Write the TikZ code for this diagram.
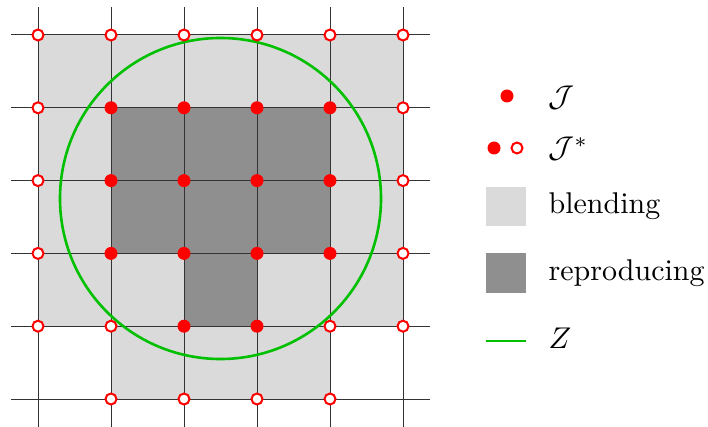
\documentclass[tikz,border=0pt]{standalone}
\begin{document}
\definecolor{lightfill}{RGB}{218,218,218}
\definecolor{darkfill}{RGB}{143,143,143}
\definecolor{zgreen}{RGB}{0,192,0}
\definecolor{dotred}{RGB}{255,0,0}
\begin{tikzpicture}[x=1pt,y=-1pt,
  gridline/.style={draw=black!80,line width=1pt},
  fulldot/.style={circle,fill=dotred,inner sep=0pt,minimum size=13pt},
  opendot/.style={circle,draw=dotred,fill=white,line width=2pt,inner sep=0pt,minimum size=11pt},
  legtext/.style={anchor=base west,inner sep=0pt,scale=3}]
\useasboundingbox (0,0) rectangle (708,427);
% regions
\fill[lightfill] (38,35) rectangle (403,326.2);
\fill[lightfill] (111,326.2) rectangle (330,399);
\fill[darkfill] (111,107.8) rectangle (330,253.4);
\fill[darkfill] (184,253.4) rectangle (257,326.2);
% grid
\foreach \x in {38,111,184,257,330,403} \draw[gridline] (\x,7) -- (\x,427);
\foreach \y in {35,107.8,180.6,253.4,326.2,399} \draw[gridline] (11,\y) -- (430,\y);
% Z circle
\draw[zgreen,line width=2.6pt] (220.5,198.5) circle[radius=160.5];
% open dots
\foreach \x [count=\i] in {38,111,184,257,330,403} \node[opendot] (t\i) at (\x,35) {};
\foreach \y [count=\i] in {107.8,180.6,253.4,326.2} {
  \node[opendot] (l\i) at (38,\y) {};
  \node[opendot] (r\i) at (403,\y) {};
}
\node[opendot] (b1) at (111,326.2) {};
\node[opendot] (b2) at (330,326.2) {};
\foreach \x [count=\i] in {111,184,257,330} \node[opendot] (bb\i) at (\x,399) {};
% filled dots
\foreach \y [count=\j] in {107.8,180.6,253.4} {
  \foreach \x [count=\i] in {111,184,257,330} \node[fulldot] (f\j\i) at (\x,\y) {};
}
\node[fulldot] (g1) at (184,326.2) {};
\node[fulldot] (g2) at (257,326.2) {};
% legend
\node[fulldot] (lj) at (507,96) {};
\node[legtext] (tj) at (548,107) {$\mathcal{J}$};
\node[fulldot] (ljs1) at (494,148) {};
\node[opendot] (ljs2) at (517,148) {};
\node[legtext] (tjs) at (548,158) {$\mathcal{J}^*$};
\fill[lightfill] (486,187) rectangle (526,226);
\node[legtext] (tb) at (548,214) {blending};
\fill[darkfill] (486,253) rectangle (526,293);
\node[legtext] (tr) at (548,280) {reproducing};
\coordinate (zl1) at (486,341);
\coordinate (zl2) at (526,341);
\draw[zgreen,line width=2.6pt] (zl1) -- (zl2);
\node[legtext] (tz) at (548,348) {$Z$};
\end{tikzpicture}
\end{document}
